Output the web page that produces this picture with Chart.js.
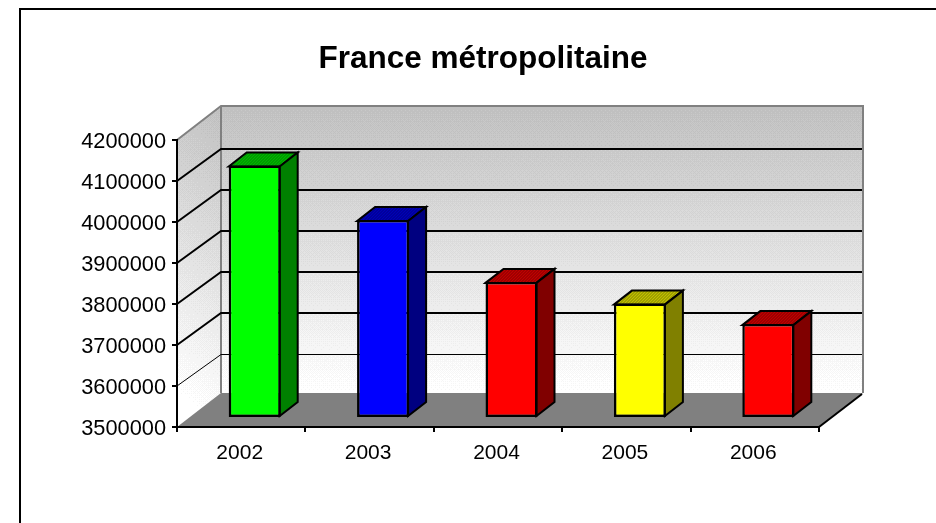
<!DOCTYPE html>
<html><head><meta charset="utf-8">
<style>html,body{margin:0;padding:0;background:#fff}canvas{display:block}</style>
<script src="https://cdn.jsdelivr.net/npm/chart.js@4"></script>
</head><body>
<canvas id="c" width="936" height="523"></canvas>
<script>
const chartTitle = 'France métropolitaine';
const years = ['2002','2003','2004','2005','2006'];
const population = [4116000,3983000,3832000,3779000,3729000];
const faceColors = ['#00ff00','#0000ff','#ff0000','#ffff00','#ff0000'];
const sideColors = ['#008000','#000080','#800000','#808000','#800000'];
const topColors = ['#00b800','#0000b8','#c00000','#c0c000','#c00000'];
const axisMin = 3500000, axisMax = 4200000, axisStep = 100000;

const WALL_DX = 44, WALL_DY = 34;      // depth of the 3D box
const GRID_DY = 32;                    // rise of the gridlines across the side wall
const BAR_DX = 13.5, BAR_DY = 9;       // bars stand part way into the box
const DEPTH_DX = 18, DEPTH_DY = 14;    // depth of each bar

const bayer = [[0,32,8,40,2,34,10,42],[48,16,56,24,50,18,58,26],[12,44,4,36,14,46,6,38],[60,28,52,20,62,30,54,22],
               [3,35,11,43,1,33,9,41],[51,19,59,27,49,17,57,25],[15,47,7,39,13,45,5,37],[63,31,55,23,61,29,53,21]];

function wallTexture(w, h, x0, shear) {
  const cv = document.createElement('canvas'); cv.width = w; cv.height = h;
  const g = cv.getContext('2d'), im = g.createImageData(w, h), step = 9;
  for (let y = 0; y < h; y++) for (let x = 0; x < w; x++) {
    const t = Math.min(1, Math.max(0, (y + shear * (x - x0)) / (h - 1)));
    const v = (255 - 192) * t;
    const q = v / step, base = Math.floor(q);
    const lvl = Math.min(255, 192 + step * (base + ((q - base) > (bayer[y % 8][x % 8] + .5) / 64 ? 1 : 0)));
    const i = (y * w + x) * 4;
    im.data[i] = im.data[i+1] = im.data[i+2] = lvl; im.data[i+3] = 255;
  }
  g.putImageData(im, 0, 0);
  return cv;
}
function poly(ctx, pts) {
  ctx.beginPath(); pts.forEach((p, i) => i ? ctx.lineTo(p[0], p[1]) : ctx.moveTo(p[0], p[1])); ctx.closePath();
}
function dither(ctx, base, dark) {
  const cv = document.createElement('canvas'); cv.width = cv.height = 3;
  const g = cv.getContext('2d'); g.fillStyle = base; g.fillRect(0, 0, 3, 3);
  g.fillStyle = dark; g.fillRect(0, 0, 1, 1); g.fillRect(2, 1, 1, 1); g.fillRect(1, 2, 1, 1);
  return ctx.createPattern(cv, 'repeat');
}

const box3d = {
  id: 'box3d',
  beforeDraw(chart) {
    const {ctx, chartArea: a, scales: {y}} = chart;
    const L = a.left, R = a.right, T = a.top, B = a.bottom;
    const bL = L + WALL_DX, bR = R + WALL_DX, bT = T - WALL_DY, bB = B - WALL_DY;
    // frame of the picture
    ctx.fillStyle = '#000';
    ctx.fillRect(19, 8, chart.width - 19, 2);
    ctx.fillRect(19, 8, 2, chart.height - 8);
    // walls
    ctx.drawImage(wallTexture(bR - bL, bB - bT, 0, 0), bL, bT);
    ctx.save();
    poly(ctx, [[L,T],[bL,bT],[bL,bB],[L,B]]); ctx.clip();
    ctx.drawImage(wallTexture(WALL_DX, B - bT, WALL_DX, -WALL_DY / WALL_DX), L, bT);
    ctx.restore();
    // floor
    ctx.fillStyle = '#808080';
    poly(ctx, [[L,B],[bL,bB],[bR,bB],[R,B]]); ctx.fill();
    // edges of the box
    ctx.strokeStyle = '#808080'; ctx.lineWidth = 2;
    ctx.beginPath();
    ctx.moveTo(L, T); ctx.lineTo(bL, bT); ctx.lineTo(bR, bT); ctx.lineTo(bR, bB);
    ctx.moveTo(bL, bT); ctx.lineTo(bL, bB);
    ctx.stroke();
    // gridlines on both walls
    ctx.strokeStyle = '#000';
    y.ticks.forEach((t, i) => {
      if (t.value === y.min || t.value === y.max) return;
      const py = Math.round(y.getPixelForValue(t.value));
      const back = py - GRID_DY + (i === 1 ? 0.5 : 0);
      ctx.lineWidth = i === 1 ? 1 : 2;
      ctx.beginPath();
      ctx.moveTo(L, py); ctx.lineTo(bL, back); ctx.lineTo(bR - 1, back);
      ctx.stroke();
    });
    // right edge of the floor
    ctx.lineWidth = 2; ctx.beginPath(); ctx.moveTo(R, B); ctx.lineTo(bR - 1, bB + 1); ctx.stroke();
  },
  beforeDatasetDraw(chart, args) {
    const ctx = chart.ctx, bars = args.meta.data;
    ctx.save();
    ctx.translate(BAR_DX, -BAR_DY);
    ctx.lineWidth = 2; ctx.strokeStyle = '#000'; ctx.lineJoin = 'miter';
    bars.forEach((b, i) => {
      const p = b.getProps(['x','y','base','width'], true);
      const x1 = p.x - p.width / 2, x2 = p.x + p.width / 2 - 1, yt = p.y + 1, yb = p.base - 1;
      ctx.fillStyle = dither(ctx, topColors[i], sideColors[i]);
      poly(ctx, [[x1,yt],[x1+DEPTH_DX,yt-DEPTH_DY],[x2+DEPTH_DX,yt-DEPTH_DY],[x2,yt]]); ctx.fill(); ctx.stroke();
      ctx.fillStyle = sideColors[i];
      poly(ctx, [[x2,yt],[x2+DEPTH_DX,yt-DEPTH_DY],[x2+DEPTH_DX,yb-DEPTH_DY],[x2,yb]]); ctx.fill(); ctx.stroke();
    });
  },
  afterDatasetDraw(chart) { chart.ctx.restore(); }
};

const fontFamily = '"Liberation Sans", Arial, sans-serif';
new Chart(document.getElementById('c'), {
  type: 'bar',
  plugins: [box3d],
  data: { labels: years, datasets: [{
    data: population, backgroundColor: faceColors, borderColor: '#000', borderWidth: 2.5, borderSkipped: false,
    base: axisMin, barPercentage: 0.405, categoryPercentage: 1, clip: false
  }]},
  options: {
    responsive: false, animation: false,
    layout: { padding: { left: 30, right: 0, top: 0, bottom: 0 } },
    plugins: {
      legend: { display: false }, tooltip: { enabled: false },
      title: { display: true, text: chartTitle, color: '#000',
        font: { family: fontFamily, size: 31.5, weight: 'bold', lineHeight: 1.2 },
        padding: { top: 40, bottom: 62.2 } }
    },
    scales: {
      x: {
        afterFit(s) { s.height = 96; },
        border: { color: '#000', width: 2 },
        grid: { drawOnChartArea: false, color: '#000', lineWidth: 2, tickLength: 5 },
        ticks: { color: '#000', padding: 9, maxRotation: 0, labelOffset: -1.5, font: { family: fontFamily, size: 21 } }
      },
      y: {
        min: axisMin, max: axisMax,
        afterFit(s) { s.width = 147; },
        border: { color: '#000', width: 2 },
        grid: { drawOnChartArea: false, color: '#000', lineWidth: 2, tickLength: 5 },
        ticks: { stepSize: axisStep, color: '#000', padding: 6, autoSkip: false, labelOffset: 2,
          font: { family: fontFamily, size: 21.8 },
          callback: v => String(v) }
      },
      rightSpace: {
        position: 'right', display: true,
        afterFit(s) { s.width = 117; },
        border: { display: false },
        grid: { display: false },
        ticks: { display: false }
      }
    }
  }
});
</script>
</body></html>
